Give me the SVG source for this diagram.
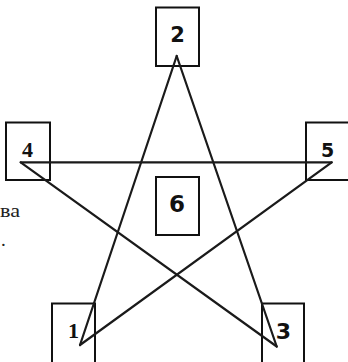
<svg xmlns="http://www.w3.org/2000/svg" width="348" height="362" viewBox="0 0 348 362">
<style>
.box{fill:#fff;stroke:#111;stroke-width:2}
.ln{stroke:#1a1a1a;stroke-width:2.2;fill:none;stroke-linecap:round}
.s{font-family:"DejaVu Sans","Liberation Sans",sans-serif;font-weight:bold;text-anchor:middle;fill:#111}
.r{font-family:"Liberation Serif",serif;font-weight:bold;text-anchor:middle;fill:#111}
.t{font-family:"Liberation Serif",serif;fill:#222}
</style>
<rect width="348" height="362" fill="#fff"/>
<g id="n2"><rect class="box" x="156" y="7.5" width="43" height="58.5"/><text class="s" x="177.5" y="41.5" font-size="21">2</text></g>
<g id="n4"><rect class="box" x="6" y="122.5" width="44" height="57.5"/><text class="r" x="27.5" y="157" font-size="22">4</text></g>
<g id="n5"><rect class="box" x="306" y="122.5" width="44" height="57.5"/><text class="s" x="327.5" y="156.5" font-size="19">5</text></g>
<g id="n6"><rect class="box" x="156" y="177" width="43" height="58"/><text class="s" x="177" y="211.5" font-size="23">6</text></g>
<g id="n1"><rect class="box" x="52" y="303.5" width="43" height="60"/><text class="r" x="73.5" y="337.5" font-size="22">1</text></g>
<g id="n3"><rect class="box" x="262" y="303.5" width="42" height="60"/><text x="283.5" y="338.5" font-size="22" style="font-family:'DejaVu Sans',sans-serif;font-weight:600;text-anchor:middle;fill:#111">3</text></g>
<g id="connectors">
<line class="ln" x1="176.7" y1="56" x2="80" y2="345"/>
<line class="ln" x1="176.7" y1="56" x2="276.7" y2="346.5"/>
<line class="ln" x1="20.7" y1="162.3" x2="331.7" y2="162.3"/>
<line class="ln" x1="20.7" y1="162.3" x2="276.7" y2="346.5"/>
<line class="ln" x1="331.7" y1="162.3" x2="80" y2="345"/>
</g>
<text class="t" x="0" y="217" font-size="19" textLength="20" lengthAdjust="spacingAndGlyphs">ва</text>
<text class="t" x="1" y="246" font-size="19">.</text>
</svg>
